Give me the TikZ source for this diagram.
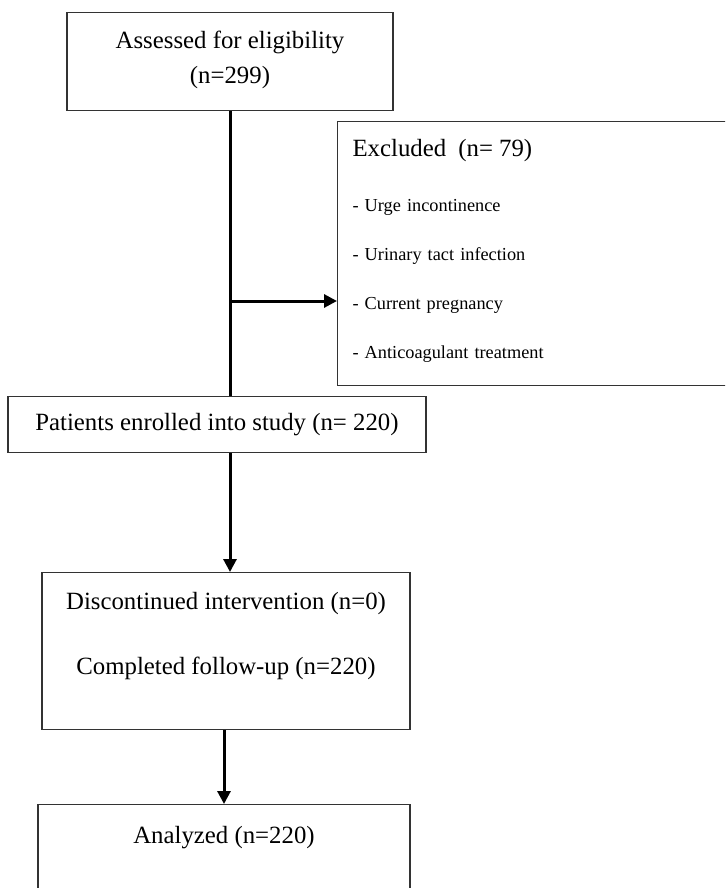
\documentclass[tikz,border=0pt]{standalone}
\usepackage{fontspec}
\setmainfont{Liberation Serif}
\usetikzlibrary{arrows.meta,positioning,calc}

\begin{document}
\begin{tikzpicture}[x=1pt, y=-1pt,
  box/.style={draw=black!80, line width=1.1pt, inner xsep=0pt, inner ysep=0pt, align=center, font=\fontsize{24.8}{35}\selectfont},
  link/.style={line width=3pt},
  arr/.style={line width=3pt, -{Triangle[length=13pt,width=13pt]}}]
\clip (0,0) rectangle (725,888);
\fill[white] (0,0) rectangle (725,888);
\node[box, anchor=north, minimum width=326pt, text height=71pt, text depth=27pt] (assess) at (230,12) {Assessed for eligibility\\(n=299)};
\node[box, anchor=north west, align=left, inner xsep=15pt, text width=360pt, text height=35pt, text depth=229pt, font=\fontsize{18.3}{49}\selectfont] (excl) at (337,121) {{\fontsize{24.8}{30}\selectfont Excluded\ \ (n= 79)}\\[6pt]- Urge incontinence\\- Urinary tact infection\\- Current pregnancy\\- Anticoagulant treatment};
\node[box, anchor=north, minimum width=418pt, text height=34pt, text depth=22pt] (enrol) at (217,396) {Patients enrolled into study (n= 220)};
\node[box, anchor=north, minimum width=368pt, text height=102pt, text depth=55pt] (follow) at (226,572) {Discontinued intervention (n=0)\\[30pt]Completed follow-up (n=220)};
\node[box, anchor=north, minimum width=372pt, text height=39pt, text depth=120pt] (analysed) at (224,804) {Analyzed (n=220)};
\coordinate (branch) at (assess.south |- 0,301);
\draw[link] (assess.south) -- (assess.south |- enrol.north);
\draw[arr] (branch) -- (branch -| excl.west);
\draw[arr] (enrol.south -| assess.south) -- (follow.north -| assess.south);
\draw[arr] (follow.south -| analysed.north) -- (analysed.north);
\end{tikzpicture}
\end{document}
